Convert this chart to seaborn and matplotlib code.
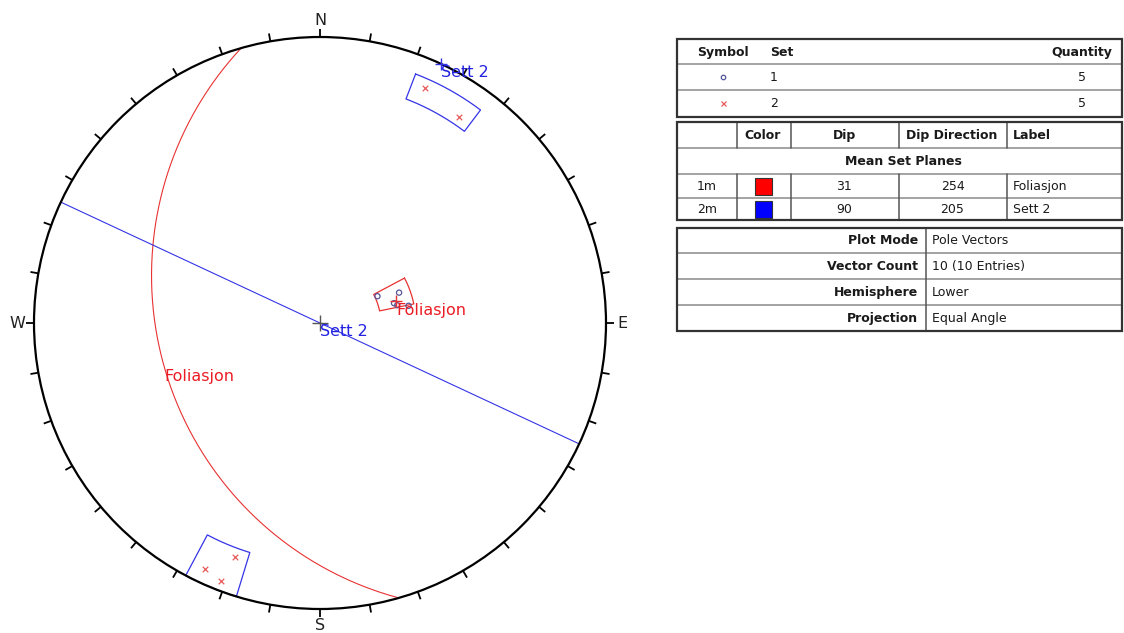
import numpy as np
import matplotlib
matplotlib.use("Agg")
import matplotlib.pyplot as plt
from matplotlib.patches import Circle, Rectangle
import seaborn as sns

# Pole measurements (trend, plunge in degrees, lower hemisphere)
set1_trend = [65, 69, 75, 77, 79]
set1_plunge = [65, 57, 60, 59, 55]
set2_trend = [24, 34, 200, 205, 201]
set2_plunge = [6, 8, 8, 3, 2]

# Legend of pole sets
set_ids = ["1", "2"]
set_quantity = [5, 5]

# Mean set planes
mean_ids = ["1m", "2m"]
mean_dip = [31, 90]
mean_dipdir = [254, 205]
mean_label = ["Foliasjon", "Sett 2"]
mean_color = ["#ff0000", "#0000ff"]

# Variability windows per set: (trend min, trend max, plunge min, plunge max)
set1_windows = [(62, 78.5, 53, 66)]
set2_windows = [(21, 37, 4, 10), (197, 208, 0, 10)]

# Plot information
info_keys = ["Plot Mode", "Vector Count", "Hemisphere", "Projection"]
info_vals = ["Pole Vectors", "10 (10 Entries)", "Lower", "Equal Angle"]

compass = ["N", "E", "S", "W"]

sns.set_theme(style="white")
plt.rcParams["font.family"] = ["DejaVu Sans"]

RED_LINE = "#e83232"
BLUE_LINE = "#3434e6"
RED_TEXT = "#ec1c24"
BLUE_TEXT = "#2222e0"
POLE1 = "#55559a"
POLE2 = "#e85a5a"


def proj(trend, plunge):
    """Equal-angle (stereographic) projection of lines, lower hemisphere."""
    t = np.radians(np.asarray(trend, float))
    p = np.radians(np.asarray(plunge, float))
    r = np.tan((np.pi / 2 - p) / 2)
    return r * np.sin(t), r * np.cos(t)


def great_circle(dipdir, dip, n=400):
    strike = np.radians(dipdir - 90)
    dd = np.radians(dipdir)
    d = np.radians(dip)
    th = np.linspace(0, np.pi, n)
    e = np.cos(th) * np.sin(strike) + np.sin(th) * np.cos(d) * np.sin(dd)
    nn = np.cos(th) * np.cos(strike) + np.sin(th) * np.cos(d) * np.cos(dd)
    dn = np.sin(th) * np.sin(d)
    return e / (1 + dn), nn / (1 + dn)


def window_outline(t0, t1, p0, p1, n=40):
    ts = np.linspace(t0, t1, n)
    ps = np.linspace(p0, p1, n)
    tr = np.concatenate([ts, np.full(n, t1), ts[::-1], np.full(n, t0)])
    pl = np.concatenate([np.full(n, p0), ps, np.full(n, p1), ps[::-1]])
    return proj(tr, pl)


W, H = 1124, 633
fig = plt.figure(figsize=(W / 100, H / 100), dpi=100)

# ---- stereonet ----
CX, CY, R, L = 320, 323, 286, 310
ax = fig.add_axes([(CX - L) / W, (H - CY - L) / H, 2 * L / W, 2 * L / H])
lim = L / R
ax.set_xlim(-lim, lim)
ax.set_ylim(-lim, lim)
ax.set_aspect("equal")
ax.axis("off")

ax.add_patch(Circle((0, 0), 1, fill=False, lw=1.6, color="black", zorder=5))
tick_len = 8 / R
for az in range(0, 360, 10):
    a = np.radians(az)
    ax.plot([np.sin(a), (1 + tick_len) * np.sin(a)],
            [np.cos(a), (1 + tick_len) * np.cos(a)],
            color="black", lw=1.3, zorder=5, solid_capstyle="butt")

for i, lab in enumerate(compass):
    a = np.radians(90 * i)
    ax.text(1.059 * np.sin(a), 1.059 * np.cos(a), lab, ha="center", va="center",
            fontsize=11.5, color="#222222")

# center cross
ax.plot([0], [0], marker="+", ms=12, mew=1.0, color="#555555", zorder=6)

line_cols = [RED_LINE, BLUE_LINE]
text_cols = [RED_TEXT, BLUE_TEXT]

# mean planes
for dd, dp, lab, col, tcol in zip(mean_dipdir, mean_dip, mean_label, line_cols, text_cols):
    gx, gy = great_circle(dd, dp)
    sns.lineplot(x=gx, y=gy, sort=False, estimator=None, color=col, lw=0.8, ax=ax)
    mx, my = proj(dd, dp)
    ax.annotate(lab, (mx, my), xytext=(0, -1), textcoords="offset points",
                ha="left", va="top", fontsize=11.5, color=tcol, zorder=8)

# variability windows
for wins, col in zip([set1_windows, set2_windows], line_cols):
    for (t0, t1, p0, p1) in wins:
        wx, wy = window_outline(t0, t1, p0, p1)
        sns.lineplot(x=wx, y=wy, sort=False, estimator=None, color=col, lw=0.9, ax=ax)

# poles
p1x, p1y = proj(set1_trend, set1_plunge)
sns.scatterplot(x=p1x, y=p1y, marker="o", s=14, facecolor="none",
                edgecolor=POLE1, linewidth=0.9, ax=ax, zorder=7)
p2x, p2y = proj(set2_trend, set2_plunge)
sns.scatterplot(x=p2x, y=p2y, marker="x", s=16, color=POLE2, linewidth=0.9,
                ax=ax, zorder=7)

# mean poles
for dd, dp, lab, col, tcol in zip(mean_dipdir, mean_dip, mean_label, line_cols, text_cols):
    ptr = (dd + 180) % 360
    ppl = 90 - dp
    px, py = proj(ptr, ppl)
    ax.plot([px], [py], marker="+", ms=8, mew=1.0, color=col, zorder=8)
    ax.annotate(lab, (px, py), xytext=(0, -1), textcoords="offset points",
                ha="left", va="top", fontsize=11.5, color=tcol, zorder=8)

# ---- tables (pixel coordinates) ----
tx = fig.add_axes([0, 0, 1, 1])
tx.set_xlim(0, W)
tx.set_ylim(H, 0)
tx.axis("off")
tx.patch.set_alpha(0)

X0, X1 = 677, 1122
INN = dict(color="#8a8a8a", lw=1.1)
FS = 9
VA = "center_baseline"


def box(y0, y1):
    tx.add_patch(Rectangle((X0, y0), X1 - X0, y1 - y0, fill=False,
                           ec="#333333", lw=1.6, zorder=3))


def hline(y, **kw):
    tx.plot([X0, X1], [y, y], **kw, zorder=2)


def vline(x, y0, y1, **kw):
    tx.plot([x, x], [y0, y1], **kw, zorder=2)


def cell(x, y, s, ha="center", bold=False):
    tx.text(x, y - 1.2, s, ha=ha, va=VA, fontsize=FS,
            weight="bold" if bold else "normal", color="#1a1a1a")


# table 1: symbols
box(38.5, 116.5)
hline(64, **INN)
hline(90, **INN)
cell(722.5, 52, "Symbol", bold=True)
cell(770, 52, "Set", ha="left", bold=True)
cell(1112, 52, "Quantity", ha="right", bold=True)
row_y = [77, 103]
tx.plot([722.5], [row_y[0]], marker="o", ms=3.2, mfc="none", mec=POLE1, mew=0.9)
tx.plot([722.5], [row_y[1]], marker="x", ms=3.6, color=POLE2, mew=0.9)
for y, sid, q in zip(row_y, set_ids, set_quantity):
    cell(770, y, sid, ha="left")
    cell(1082, y, str(q))

# table 2: mean set planes
y0, y1 = 122, 219.5
box(y0, y1)
cols = [737, 790.5, 899, 1007]
hline(148.3, **INN)
hline(174.3, **INN)
hline(197.7, **INN)
for c in cols:
    vline(c, y0, 148.3, color="#555555", lw=1.1)
    vline(c, 174.3, y1, color="#555555", lw=1.1)
cell(763, 135, "Color", bold=True)
cell(844, 135, "Dip", bold=True)
cell(952, 135, "Dip Direction", bold=True)
cell(1013, 135, "Label", ha="left", bold=True)
cell(903, 161.3, "Mean Set Planes", bold=True)
for y, mid, col, dp, dd, lab in zip([186.5, 209], mean_ids, mean_color,
                                    mean_dip, mean_dipdir, mean_label):
    cell(707, y, mid)
    tx.add_patch(Rectangle((755, y - 8.5), 17, 17, fc=col, ec="#333333", lw=0.8))
    cell(844, y, str(dp))
    cell(952.5, y, str(dd))
    cell(1013, y, lab, ha="left")

# table 3: plot info
y0, y1 = 228, 331
box(y0, y1)
for y in [253.3, 279.3, 305]:
    hline(y, **INN)
vline(926, y0, y1, color="#555555", lw=1.1)
for y, k, v in zip([240.5, 266.5, 292.5, 318.3], info_keys, info_vals):
    cell(918, y, k, ha="right", bold=True)
    cell(931.5, y, v, ha="left")

fig.savefig("out.png", dpi=100)
